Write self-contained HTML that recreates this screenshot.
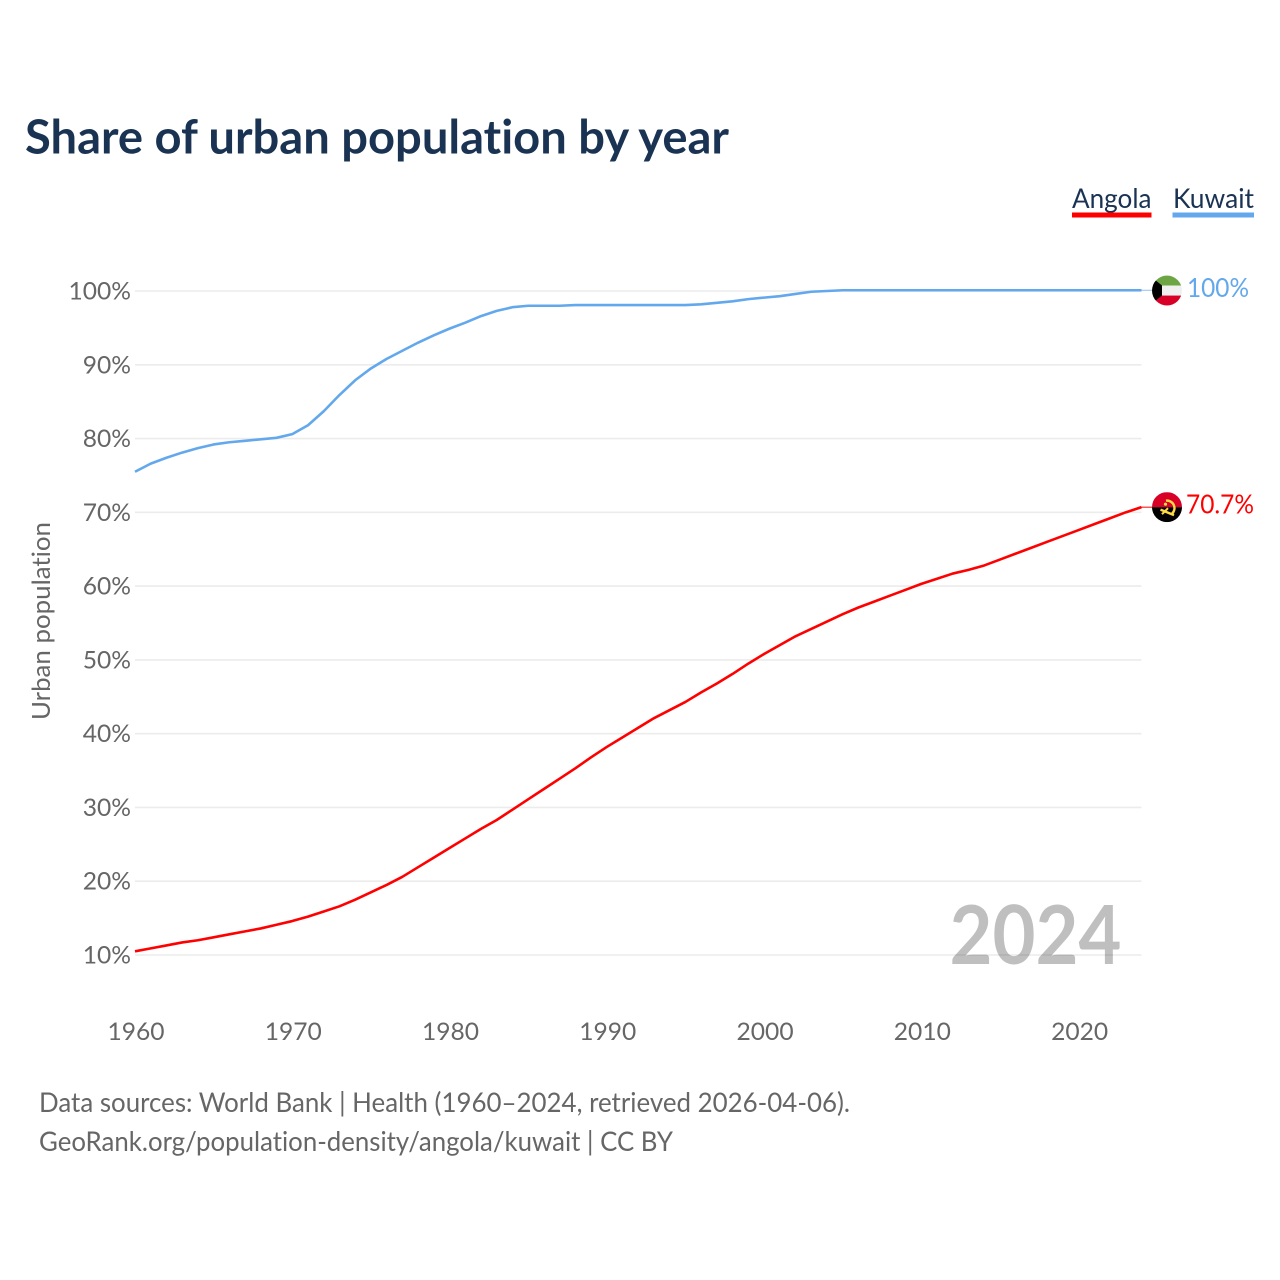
<!DOCTYPE html>
<html lang="en">
<head>
<meta charset="utf-8">
<title>Share of urban population by year</title>
<style>
html,body{margin:0;padding:0;background:#fff;}
svg{display:block;font-family:"Lato","Carlito","Liberation Sans",sans-serif;font-variant-ligatures:none;}
</style>
</head>
<body>
<svg id="chart" xmlns="http://www.w3.org/2000/svg" width="1280" height="1280" viewBox="0 0 1280 1280">
  <defs>
    <clipPath id="flag-clip"><circle cx="0" cy="0" r="15"></circle></clipPath>
  </defs>
  <rect width="1280" height="1280" fill="#fff"></rect>
  <text x="25" y="153.5" font-size="47" font-weight="700" fill="#1a3353" textLength="704" lengthAdjust="spacingAndGlyphs">Share of urban population by year</text>

  <a>
    <text x="1072" y="208" font-size="27.5" fill="#1a3353" textLength="79.5" lengthAdjust="spacingAndGlyphs">Angola</text>
    <rect x="1072" y="212.5" width="79.5" height="5" fill="#ff0000"></rect>
  </a>
  <a>
    <text x="1173" y="208" font-size="27.5" fill="#1a3353" textLength="81" lengthAdjust="spacingAndGlyphs">Kuwait</text>
    <rect x="1172.5" y="212.5" width="81.5" height="5" fill="#63a8ec"></rect>
  </a>

  <g id="grid"></g>
  <g id="y-axis"></g>
  <g id="x-axis"></g>
  <text transform="translate(50,621) rotate(-90)" text-anchor="middle" font-size="25" fill="#666" textLength="198" lengthAdjust="spacingAndGlyphs">Urban population</text>
  <text id="year-label" x="1121.5" y="964" text-anchor="end" font-size="81" font-weight="700" fill="#000" fill-opacity="0.25" textLength="172" lengthAdjust="spacingAndGlyphs"></text>
  <g id="series"></g>
  <g id="ends"></g>

  <text x="39" y="1112" font-size="27" fill="#666" textLength="811" lengthAdjust="spacingAndGlyphs">Data sources: World Bank | Health (1960–2024, retrieved 2026-04-06).</text>
  <text x="39" y="1151" font-size="27" fill="#666" textLength="634" lengthAdjust="spacingAndGlyphs">GeoRank.org/population-density/angola/kuwait | CC BY</text>
</svg>
<script>
const years = [1960,1961,1962,1963,1964,1965,1966,1967,1968,1969,1970,1971,1972,1973,1974,1975,1976,1977,1978,1979,1980,1981,1982,1983,1984,1985,1986,1987,1988,1989,1990,1991,1992,1993,1994,1995,1996,1997,1998,1999,2000,2001,2002,2003,2004,2005,2006,2007,2008,2009,2010,2011,2012,2013,2014,2015,2016,2017,2018,2019,2020,2021,2022,2023,2024];
const angolaValues = [10.5,10.9,11.3,11.7,12.0,12.4,12.8,13.2,13.6,14.1,14.6,15.2,15.9,16.6,17.5,18.5,19.5,20.6,21.9,23.2,24.5,25.8,27.1,28.3,29.7,31.1,32.5,33.9,35.3,36.8,38.2,39.5,40.8,42.1,43.2,44.3,45.6,46.8,48.1,49.5,50.8,52.0,53.2,54.2,55.2,56.2,57.1,57.9,58.7,59.5,60.3,61.0,61.7,62.2,62.8,63.6,64.4,65.2,66.0,66.8,67.6,68.4,69.2,70.0,70.7];
const kuwaitValues = [75.5,76.6,77.4,78.1,78.7,79.2,79.5,79.7,79.9,80.1,80.6,81.8,83.7,85.9,87.9,89.5,90.8,91.9,93.0,94.0,94.9,95.7,96.6,97.3,97.8,98.0,98.0,98.0,98.1,98.1,98.1,98.1,98.1,98.1,98.1,98.1,98.2,98.4,98.6,98.9,99.1,99.3,99.6,99.9,100,100.1,100.1,100.1,100.1,100.1,100.1,100.1,100.1,100.1,100.1,100.1,100.1,100.1,100.1,100.1,100.1,100.1,100.1,100.1,100.1];
const yTickValues = [10,20,30,40,50,60,70,80,90,100];
const xTickValues = [1960,1970,1980,1990,2000,2010,2020];
const yearLabelText = "2024";
const angolaEndLabel = "70.7%";
const kuwaitEndLabel = "100%";

const NS = "http://www.w3.org/2000/svg";
const xScale = v => 135 + (v - 1960) * (1141.5 - 135) / 64;
const yScale = v => 955 - (v - 10) * (955 - 291) / 90;
function make(parent, tag, attrs, text) {
  const el = document.createElementNS(NS, tag);
  for (const k in attrs) el.setAttribute(k, attrs[k]);
  if (text !== undefined) el.textContent = text;
  parent.appendChild(el);
  return el;
}
const grid = document.getElementById("grid");
const yAxis = document.getElementById("y-axis");
const xAxis = document.getElementById("x-axis");
const seriesG = document.getElementById("series");
const ends = document.getElementById("ends");

document.getElementById("year-label").textContent = yearLabelText;

yTickValues.forEach(t => {
  const line = make(grid, "line", {x1:135, x2:1141.5, y1:yScale(t), y2:yScale(t), stroke:"#ececec", "stroke-width":1.6});
  
  
  const label = make(yAxis, "text", {x:131, y:yScale(t)+8.5, "text-anchor":"end", "font-size":24.6, fill:"#666"}, t + "%");
  
  
});
xTickValues.forEach(t => {
  const label = make(xAxis, "text", {x:xScale(t)+1, y:1040, "text-anchor":"middle", "font-size":24.6, fill:"#666"}, String(t));
  
  
});

const pathFor = vals => vals.map((v,i)=>(i?"L":"M")+xScale(years[i]).toFixed(2)+" "+yScale(v).toFixed(2)).join(" ");

const angolaLine = make(seriesG, "path", {d:pathFor(angolaValues), fill:"none", stroke:"#ff0000", "stroke-width":2.6, "stroke-linejoin":"round"});


const kuwaitLine = make(seriesG, "path", {d:pathFor(kuwaitValues), fill:"none", stroke:"#63a8ec", "stroke-width":2.6, "stroke-linejoin":"round"});



const angolaEndY = yScale(angolaValues[angolaValues.length-1]);
const kuwaitEndY = yScale(kuwaitValues[kuwaitValues.length-1]);

const angolaLeader = make(ends, "line", {x1:1141.5, x2:1152, y1:angolaEndY, y2:angolaEndY, stroke:"#ff0000", "stroke-width":1});


const kuwaitLeader = make(ends, "line", {x1:1141.5, x2:1152, y1:kuwaitEndY, y2:kuwaitEndY, stroke:"#63a8ec", "stroke-width":1, "stroke-opacity":0.7});



const kuwaitFlag = make(ends, "g", {transform:`translate(1167,${kuwaitEndY+0.3})`, "clip-path":"url(#flag-clip)"});


make(kuwaitFlag, "rect", {x:-15, y:-15, width:30, height:10, fill:"#6da544"});
make(kuwaitFlag, "rect", {x:-15, y:-5, width:30, height:10, fill:"#f0f0f0"});
make(kuwaitFlag, "rect", {x:-15, y:5, width:30, height:10, fill:"#d80027"});
make(kuwaitFlag, "polygon", {points:"-15,-13 -5,-5 -5,5 -15,13", fill:"#000"});

const angolaFlag = make(ends, "g", {transform:`translate(1167,${angolaEndY})`, "clip-path":"url(#flag-clip)"});


make(angolaFlag, "rect", {x:-15, y:-15, width:30, height:15, fill:"#d80027"});
make(angolaFlag, "rect", {x:-15, y:0, width:30, height:15, fill:"#000"});
make(angolaFlag, "path", {d:"M-1 -6.5 A7.5 7.5 0 0 1 5 6.5", fill:"none", stroke:"#ffda44", "stroke-width":2.4});
make(angolaFlag, "path", {d:"M-6.5 2.5 L7 8", fill:"none", stroke:"#ffda44", "stroke-width":2.4});
make(angolaFlag, "path", {d:"M-5 7 L1 1", fill:"none", stroke:"#ffda44", "stroke-width":2});
make(angolaFlag, "circle", {cx:-1.5, cy:-3, r:1.6, fill:"#ffda44"});

const angolaText = make(ends, "text", {x:1186, y:angolaEndY+6.5, "font-size":26.5, fill:"#ff0000", textLength:68, lengthAdjust:"spacingAndGlyphs"}, angolaEndLabel);


const kuwaitText = make(ends, "text", {x:1187, y:kuwaitEndY+6.5, "font-size":26.5, fill:"#63a8ec", textLength:62, lengthAdjust:"spacingAndGlyphs"}, kuwaitEndLabel);


</script>
</body>
</html>
